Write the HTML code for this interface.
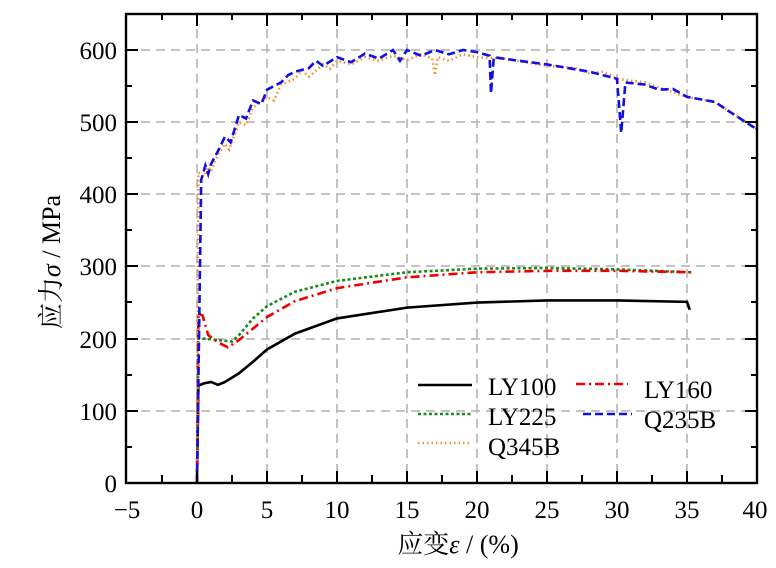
<!DOCTYPE html>
<html><head><meta charset="utf-8"><style>
body{margin:0;background:#fff;width:776px;height:563px;overflow:hidden}
text{font-family:"Liberation Serif","Noto Serif CJK SC",serif;fill:#000}
</style></head><body>
<svg width="776" height="563" xmlns="http://www.w3.org/2000/svg">
<g stroke="#bbb" stroke-width="1.8" stroke-dasharray="9,6" fill="none">
<path d="M197 14V483M267 14V483M337 14V483M407 14V483M477 14V483M547 14V483M617 14V483M687 14V483"/>
<path d="M126 50H757M126 122H757M126 194H757M126 266H757M126 339H757M126 411H757"/>
</g>
<g transform="translate(197,483) scale(14,-0.7217)" fill="none" stroke-width="2.6">
<path vector-effect="non-scaling-stroke" stroke="#000" d="M0 0L0.1 135L0.5 138L1 140L1.5 136L2 140L3 152L4 168L5 185L7 207L10 228L15 243L20 250L25 253L30 253L35 251L35.2 240"/>
<path vector-effect="non-scaling-stroke" stroke="#1a8a1a" stroke-dasharray="3,2.5" d="M0 0L0.1 200L0.5 200L1.5 198L2.5 196L3 205L4 228L5 245L7 265L10 280L15 292L20 297L25 298L30 296L35.3 292"/>
<path vector-effect="non-scaling-stroke" stroke="#e00" stroke-dasharray="9,4,2,4" d="M0 0L0.1 235L0.4 232L0.8 205L1.5 195L2.2 188L3 198L4 214L5 230L7 252L10 270L15 285L20 292L25 294L30 294L35.3 292"/>
<path vector-effect="non-scaling-stroke" stroke="#f09030" stroke-dasharray="1.5,3" d="M0 0L0.1 430L0.5 425L0.8 438L1 432L1.5 455L2 470L2.3 462L3 500L3.5 496L4 520L5 535L5.5 530L6 552L7 560L7.5 572L8 563L9 580L9.5 574L10 585L11 580L12 590L13 585L14 592L15 586L16 594L16.8 588L17 565L17.2 590L18 585L19 594L20 590L22 588L25 578L27 575L28 568L29 570L30 560L32 555L33 548L35 535L37 528L38 515L40 490"/>
<path vector-effect="non-scaling-stroke" stroke="#1010e0" stroke-dasharray="8,4" d="M0 0L0.3 420L0.6 440L0.8 428L1 442L1.5 460L2 480L2.4 472L3 510L3.5 505L4 530L4.6 525L5 545L6 555L6.5 565L7 570L8 575L8.5 585L9 578L10 590L11 583L12 595L13 588L14 600L14.5 585L15 600L16 592L17 600L18 594L19 600L20 597L20.9 592L21 540L21.2 590L23 585L25 580L28 570L30 560L30.3 485L30.6 555L32 552L33 545L34 546L35 535L37 528L38 515L40 490"/>
</g>
<rect x="126" y="14" width="631" height="469" fill="none" stroke="#000" stroke-width="2.4"/>
<g stroke="#000" stroke-width="2">
<path d="M162 483v-8M232 483v-8M302 483v-8M372 483v-8M442 483v-8M512 483v-8M582 483v-8M652 483v-8M722 483v-8"/>
<path d="M197 483v-12M267 483v-12M337 483v-12M407 483v-12M477 483v-12M547 483v-12M617 483v-12M687 483v-12"/>
<path d="M197 14v12M267 14v12M337 14v12M407 14v12M477 14v12M547 14v12M617 14v12M687 14v12M162 14v6M232 14v6M302 14v6M372 14v6M442 14v6M512 14v6M582 14v6M652 14v6M722 14v6"/>
<path d="M126 50h12M126 122h12M126 194h12M126 266h12M126 339h12M126 411h12M126 86h6M126 158h6M126 230h6M126 302h6M126 375h6M126 447h6"/>
<path d="M757 50h-12M757 122h-12M757 194h-12M757 266h-12M757 339h-12M757 411h-12M757 86h-6M757 158h-6M757 230h-6M757 302h-6M757 375h-6M757 447h-6"/>
</g>
<g font-size="25" text-anchor="end">
<text x="117" y="59">600</text><text x="117" y="131">500</text><text x="117" y="203">400</text>
<text x="117" y="275">300</text><text x="117" y="348">200</text><text x="117" y="420">100</text><text x="117" y="492">0</text>
</g>
<g font-size="25" text-anchor="middle">
<text x="127" y="518">−5</text><text x="197" y="518">0</text><text x="267" y="518">5</text><text x="337" y="518">10</text>
<text x="407" y="518">15</text><text x="477" y="518">20</text><text x="547" y="518">25</text><text x="617" y="518">30</text>
<text x="687" y="518">35</text><text x="755" y="518">40</text>
</g>
<text x="458" y="553" font-size="26" text-anchor="middle">应变<tspan font-style="italic">ε</tspan> / (%)</text>
<text transform="translate(60,262) rotate(-90)" font-size="26" text-anchor="middle">应力<tspan font-style="italic">σ</tspan> / MPa</text>
<g stroke-width="2.6" fill="none">
<path d="M418 385H472" stroke="#000"/>
<path d="M418 414H472" stroke="#1a8a1a" stroke-dasharray="3,2.5"/>
<path d="M418 443H472" stroke="#f09030" stroke-dasharray="1.5,3"/>
<path d="M576 384H628" stroke="#e00" stroke-dasharray="9,4,2,4"/>
<path d="M583 414H632" stroke="#1010e0" stroke-dasharray="8,4"/>
</g>
<g font-size="25">
<text x="488" y="395">LY100</text><text x="488" y="425">LY225</text><text x="488" y="455">Q345B</text>
<text x="644" y="398">LY160</text><text x="644" y="428">Q235B</text>
</g>
</svg>
</body></html>
